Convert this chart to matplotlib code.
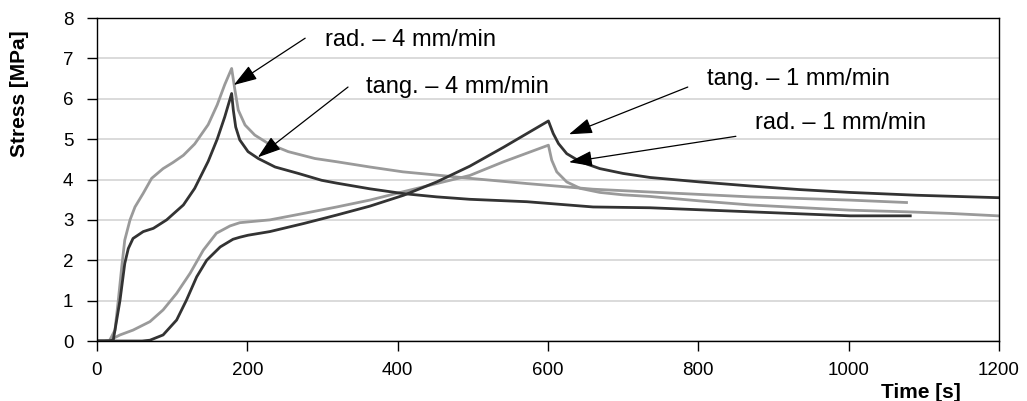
import numpy as np
import matplotlib.pyplot as plt

plt.rcParams['font.family'] = ['Liberation Sans', 'DejaVu Sans']

# --- data (time [s], stress [MPa]) ---
rad4_t = [0, 10, 17, 24, 28.4, 33, 37, 44, 50.6, 61.6, 72.8, 88, 101, 115,
          130, 148, 160, 170, 179.2, 183.6, 188, 197, 210, 228, 254.5, 290,
          319, 363, 407, 452, 496, 572, 660, 736, 869, 1002, 1077]
rad4_s = [0, 0, 0.02, 0.27, 1.01, 1.84, 2.5, 3.0, 3.32, 3.66, 4.03, 4.27,
          4.42, 4.6, 4.88, 5.36, 5.85, 6.35, 6.75, 6.21, 5.72, 5.35, 5.1,
          4.89, 4.69, 4.52, 4.44, 4.31, 4.19, 4.11, 4.03, 3.9, 3.76, 3.69,
          3.57, 3.49, 3.43]

tang4_t = [0, 15, 21.7, 30.6, 37, 41.7, 48, 61.6, 75, 92.7, 115, 130, 148,
           160, 170, 179.2, 181.4, 184.6, 190, 201, 214.6, 237, 268, 299, 319,
           363, 408, 452, 496, 572, 660, 736, 869, 1002, 1082]
tang4_s = [0, 0, 0.02, 1.0, 1.92, 2.29, 2.54, 2.71, 2.79, 3.0, 3.37, 3.78,
           4.45, 5.0, 5.55, 6.13, 5.72, 5.3, 4.98, 4.69, 4.52, 4.31, 4.15,
           3.98, 3.91, 3.77, 3.65, 3.57, 3.51, 3.45, 3.32, 3.3, 3.2, 3.1, 3.1]

rad1_t = [0, 10, 17, 30.6, 48, 70.5, 88, 106, 124, 141.5, 159, 177, 190,
          201, 230, 275, 319, 363, 408, 452, 496, 541, 600.6, 605, 611.7, 625,
          643, 669, 700, 736, 802, 869, 1002, 1077, 1135, 1199]
rad1_s = [0, 0, 0.02, 0.15, 0.27, 0.48, 0.77, 1.18, 1.68, 2.25, 2.67, 2.85,
          2.93, 2.95, 3.0, 3.16, 3.32, 3.49, 3.7, 3.9, 4.1, 4.44, 4.85, 4.48,
          4.19, 3.94, 3.78, 3.68, 3.62, 3.58, 3.47, 3.37, 3.24, 3.2, 3.16,
          3.1]

tang1_t = [0, 60, 70.5, 88, 106, 119, 132.7, 146, 164, 181, 190, 201, 230,
           275, 319, 363, 408, 452, 496, 541, 600.6, 607, 614, 625, 643, 669,
           700, 736, 802, 869, 935, 1002, 1091, 1199]
tang1_s = [0, 0, 0.02, 0.15, 0.52, 1.01, 1.59, 2.0, 2.33, 2.52, 2.57, 2.62,
           2.71, 2.91, 3.12, 3.34, 3.61, 3.94, 4.33, 4.8, 5.45, 5.14, 4.89,
           4.64, 4.44, 4.27, 4.15, 4.05, 3.94, 3.84, 3.75, 3.68, 3.61, 3.55]

dark = '#333333'
light = '#9a9a9a'

fig = plt.figure(figsize=(10.27, 4.01), dpi=100)
ax = fig.add_axes([0.0944, 0.1496, 0.8783, 0.8055])

ax.plot(rad4_t, rad4_s, color=light, lw=2.0)
ax.plot(rad1_t, rad1_s, color=light, lw=2.0)
ax.plot(tang4_t, tang4_s, color=dark, lw=2.0)
ax.plot(tang1_t, tang1_s, color=dark, lw=2.0)

ax.set_xlim(0, 1200)
ax.set_ylim(0, 8)
ax.set_xticks(np.arange(0, 1201, 200))
ax.set_yticks(np.arange(0, 9, 1))
ax.yaxis.grid(True, color='#d4d4d4', lw=1.2)
ax.set_axisbelow(True)
for sp in ax.spines.values():
    sp.set_color('black')
    sp.set_linewidth(1.0)
ax.tick_params(axis='both', direction='out', length=7, width=1,
               labelsize=13.5, colors='black')
ax.tick_params(axis='y', pad=10)
ax.tick_params(axis='x', pad=8)

fig.text(20 / 1027, 1 - 94 / 401, 'Stress [MPa]', rotation=90, fontsize=15,
         fontweight='bold', ha='center', va='center')
fig.text(921 / 1027, 1 - 392 / 401, 'Time [s]', fontsize=15,
         fontweight='bold', ha='center', va='center')

arrow = dict(arrowstyle='-|>,head_length=0.9,head_width=0.3', color='black',
             lw=0.9, mutation_scale=16, shrinkA=0, shrinkB=0)
notes = [
    ('rad. – 4 mm/min', (182, 6.34), (277, 7.5), (303, 7.45)),
    ('tang. – 4 mm/min', (214, 4.55), (334, 6.29), (358, 6.29)),
    ('tang. – 1 mm/min', (628, 5.12), (786, 6.29), (812, 6.49)),
    ('rad. – 1 mm/min', (628, 4.43), (850, 5.07), (876, 5.4)),
]
for label, tip, tail, pos in notes:
    ax.annotate('', xy=tip, xytext=tail, arrowprops=arrow)
    ax.text(pos[0], pos[1], label, fontsize=17, ha='left', va='center')

fig.savefig('out.png', dpi=100)
